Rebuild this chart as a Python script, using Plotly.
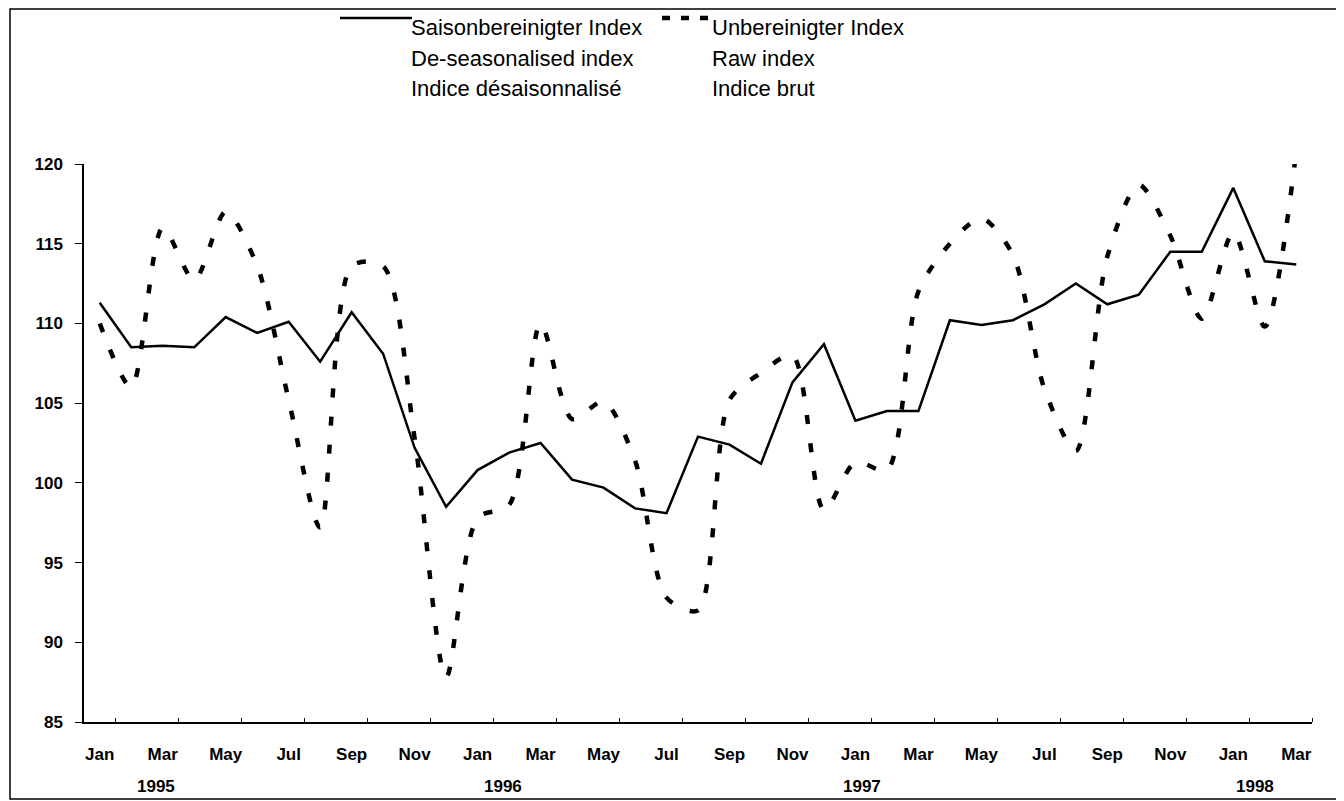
import plotly.graph_objects as go

# ---------------- data ----------------
months = ["Jan", "Feb", "Mar", "Apr", "May", "Jun", "Jul", "Aug", "Sep", "Oct", "Nov", "Dec"] * 3 + ["Jan", "Feb", "Mar"]
year_labels = ["1995", "1996", "1997", "1998"]
year_label_pos = [1.8, 12.8, 24.2, 36.7]   # category position under which each year is printed
y_ticks = [85, 90, 95, 100, 105, 110, 115, 120]

deseasonalised = [111.3, 108.5, 108.6, 108.5, 110.4, 109.4, 110.1, 107.6, 110.7, 108.1, 102.2, 98.5,
                  100.8, 101.9, 102.5, 100.2, 99.7, 98.4, 98.1, 102.9, 102.4, 101.2, 106.3, 108.7,
                  103.9, 104.5, 104.5, 110.2, 109.9, 110.2, 111.2, 112.5, 111.2, 111.8, 114.5, 114.5,
                  118.5, 113.9, 113.7]
raw = [110.0, 106.0, 116.0, 112.7, 117.0, 113.6, 105.2, 97.2, 113.6, 113.6, 102.8, 87.8,
       97.8, 98.6, 110.0, 104.0, 105.1, 101.4, 92.8, 92.0, 105.2, 106.9, 108.0, 98.3,
       101.3, 100.8, 112.0, 115.0, 116.6, 114.3, 105.9, 102.0, 114.2, 118.7, 115.5, 110.3,
       115.7, 109.8, 120.8]

legend_lines = [["Saisonbereinigter Index", "De-seasonalised index", "Indice désaisonnalisé"],
                ["Unbereinigter Index", "Raw index", "Indice brut"]]

# ---------------- geometry (screen px; page body has an 8px margin) ----------------
OFF = 8
W, H = 1344 - OFF, 801 - OFF
L, R, T, B = 84, 1312, 164, 722          # plot area in screen pixels
n = len(months)
xs = list(range(n))
x_range = [-0.5, n - 0.5]

def px_x(x):
    return (x - L) / (R - L)

def px_y(y):
    return (B - y) / (B - T)

SANS = "Liberation Sans, Arial, Helvetica, sans-serif"
tick_font = dict(family=SANS, size=17, weight="bold", color="black")

fig = go.Figure()
fig.add_trace(go.Scatter(x=xs, y=raw, mode="lines", name="raw",
                         line=dict(color="black", width=4.5, dash="9px,19px", shape="spline", smoothing=0.8),
                         showlegend=False, hoverinfo="skip"))
fig.add_trace(go.Scatter(x=xs, y=deseasonalised, mode="lines", name="sa",
                         line=dict(color="black", width=2.5),
                         showlegend=False, hoverinfo="skip"))

label_idx = xs[::2]
major_bounds = [i + 1.5 for i in xs[::2][:-1]]
minor_bounds = [i + 0.5 for i in xs[::2]]

fig.update_layout(
    width=W, height=H,
    margin=dict(l=L - OFF, r=(W + OFF) - R, t=T - OFF, b=(H + OFF) - B, pad=0),
    paper_bgcolor="white", plot_bgcolor="white",
    showlegend=False,
    font=dict(family=SANS, color="black"),
    xaxis=dict(range=x_range, tickmode="array", tickvals=label_idx,
               ticktext=[months[i] for i in label_idx], ticks="",
               showline=True, linecolor="black", linewidth=1.5, showgrid=False, zeroline=False,
               tickfont=tick_font, ticklabelstandoff=16,
               minor=dict(tickmode="array", tickvals=minor_bounds, ticks="inside", ticklen=4,
                          tickwidth=1, tickcolor="black", showgrid=False)),
    xaxis2=dict(range=x_range, overlaying="x", anchor="y", tickmode="array", tickvals=major_bounds,
                ticks="outside", ticklen=7, tickwidth=1, tickcolor="black", showticklabels=False,
                showline=False, showgrid=False, zeroline=False),
    xaxis3=dict(range=x_range, overlaying="x", anchor="y", tickmode="array", tickvals=major_bounds,
                ticks="inside", ticklen=7, tickwidth=1, tickcolor="black", showticklabels=False,
                showline=False, showgrid=False, zeroline=False),
    yaxis=dict(range=[85, 120], tickmode="array", tickvals=y_ticks, ticks="outside", ticklen=7,
               tickwidth=1, tickcolor="black", showline=True, linecolor="black", linewidth=1.5,
               showgrid=False, zeroline=False, tickfont=tick_font, ticklabelstandoff=9),
    yaxis2=dict(range=[85, 120], overlaying="y", anchor="x", tickmode="array", tickvals=y_ticks,
                ticks="inside", ticklen=7, tickwidth=1, tickcolor="black", showticklabels=False,
                showline=False, showgrid=False, zeroline=False),
)

# year labels
for yl, pos in zip(year_labels, year_label_pos):
    fig.add_annotation(x=pos, y=0, xref="x", yref="paper", yanchor="top", yshift=-53,
                       text=yl, showarrow=False, font=tick_font)

# outer frame
fig.add_shape(type="rect", xref="paper", yref="paper",
              x0=px_x(10), x1=px_x(1339), y0=px_y(799), y1=px_y(9),
              line=dict(color="black", width=1.5), layer="below")

# manual legend
fig.add_shape(type="line", xref="paper", yref="paper", x0=px_x(340), x1=px_x(412),
              y0=px_y(18), y1=px_y(18), line=dict(color="black", width=2.5))
fig.add_shape(type="line", xref="paper", yref="paper", x0=px_x(662), x1=px_x(708),
              y0=px_y(18), y1=px_y(18), line=dict(color="black", width=4.5, dash="8px,11px"))
text_x = [409, 710]
row_y = [27, 58, 88]
for col, lines in enumerate(legend_lines):
    for r, txt in enumerate(lines):
        fig.add_annotation(x=px_x(text_x[col]), y=px_y(row_y[r]), xref="paper", yref="paper",
                           xanchor="left", yanchor="middle", text=txt, showarrow=False,
                           font=dict(family=SANS, size=22, color="black"))

fig.write_html("out.html")
